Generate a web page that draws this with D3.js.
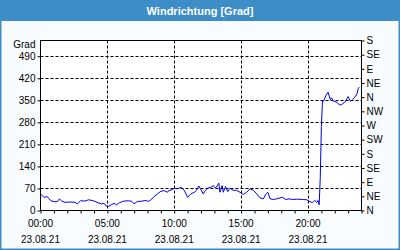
<!DOCTYPE html>
<html>
<head>
<meta charset="utf-8">
<script src="https://cdn.jsdelivr.net/npm/d3@7"></script>
<style>
  body { margin: 0; background: #fff; }
  text { font-family: "Liberation Sans", Arial, sans-serif; }
</style>
</head>
<body>
<div id="wrapper"></div>
<script>
// data (time of day, direction in degrees)
const times = ["00:00","00:15","00:30","00:45","01:00","01:15","01:25","01:35","01:50","02:15",
  "02:35","02:45","03:00","03:20","03:35","03:50","04:05","04:20","04:35","04:45",
  "04:55","05:05","05:20","05:30","05:40","05:55","06:15","06:35","06:50","07:00",
  "07:15","07:30","07:50","08:05","08:15","08:30","08:45","09:00","09:15","09:30",
  "09:35","09:50","10:00","10:15","10:30","10:45","11:00","11:15","11:30","11:40",
  "11:50","12:00","12:10","12:20","12:30","12:45","12:55","13:05","13:15","13:20",
  "13:25","13:35","13:40","13:50","14:00","14:10","14:25","14:40","14:55","15:10",
  "15:25","15:40","15:55","16:10","16:25","16:40","16:50","17:00","17:10","17:25",
  "17:40","17:55","18:05","18:20","18:35","18:50","19:10","19:35","19:55","20:05",
  "20:20","20:30","20:40","20:45","20:50","20:55","21:00","21:05","21:10","21:20",
  "21:30","21:40","21:45","21:55","22:10","22:20","22:30","22:45","22:55","23:00",
  "23:10","23:20","23:30","23:40","23:45","23:50"];
const direction = [53,42,44,32,28,28,37,30,26,27,
  26,21,31,30,34,32,29,24,21,23,
  14,13,19,23,18,25,30,31,29,21,
  29,29,32,29,34,44,53,61,63,58,
  63,66,71,69,74,64,42,53,58,64,
  78,66,53,64,71,74,79,71,81,87,
  58,79,58,76,60,71,64,64,58,51,
  58,69,64,53,40,37,51,58,37,35,
  37,40,42,35,37,35,36,35,34,29,
  25,32,26,32,18,104,267,349,347,365,
  376,352,358,347,344,336,336,344,355,362,
  347,352,360,371,387,392];

const leftTicks = [0, 70, 140, 210, 280, 350, 420, 490];
const compassTicks = [0, 45, 90, 135, 180, 225, 270, 315, 360, 405, 450, 495, 540];
const compassLabels = ["N","NE","E","SE","S","SW","W","NW","N","NE","E","SE","S"];
const timeLabels = ["00:00", "05:00", "10:00", "15:00", "20:00"];
const dateLabel = "23.08.21";

const dataset = times.map((t, i) => ({ t, v: direction[i] }));
const toMinutes = (s) => {
  const [h, m] = s.split(":").map(Number);
  return h * 60 + m;
};
const xAccessor = (d) => toMinutes(d.t);
const yAccessor = (d) => d.v;

let dimensions = {
  width: 400,
  height: 250,
  margin: { top: 40, right: 39, bottom: 40, left: 40 },
};
dimensions.boundedWidth = dimensions.width - dimensions.margin.left - dimensions.margin.right;
dimensions.boundedHeight = dimensions.height - dimensions.margin.top - dimensions.margin.bottom;

const wrapper = d3.select("#wrapper").append("svg")
  .attr("width", dimensions.width)
  .attr("height", dimensions.height);

// panel background + frame + title bar
wrapper.append("rect")
  .attr("x", 0.75).attr("y", 0.75)
  .attr("width", dimensions.width - 1.5).attr("height", dimensions.height - 1.5)
  .attr("fill", "#f9fcfe")
  .attr("stroke", "#3c8dc8").attr("stroke-width", 1.5);
wrapper.append("rect")
  .attr("x", 0).attr("y", 0)
  .attr("width", dimensions.width).attr("height", 21)
  .attr("fill", "#3c8dc8");
wrapper.append("text")
  .attr("x", dimensions.width / 2).attr("y", 14.5)
  .attr("text-anchor", "middle")
  .attr("fill", "#fff")
  .style("font-size", "11px").style("font-weight", "bold")
  .text("Windrichtung [Grad]");

const bounds = wrapper.append("g")
  .attr("transform", `translate(${dimensions.margin.left + 0.5},${dimensions.margin.top + 0.5})`);

bounds.append("rect")
  .attr("width", dimensions.boundedWidth).attr("height", dimensions.boundedHeight)
  .attr("fill", "#fff");

const yScale = d3.scaleLinear().domain([0, 540]).range([dimensions.boundedHeight, 0]);
const xScale = d3.scaleLinear().domain([0, 1440]).range([0, dimensions.boundedWidth]);

// grid
const grid = bounds.append("g")
  .attr("stroke", "#000").attr("stroke-width", 1).attr("stroke-dasharray", "3,2");
grid.selectAll(".h").data(leftTicks.slice(1)).join("line")
  .attr("x1", 0).attr("x2", dimensions.boundedWidth)
  .attr("y1", (d) => Math.round(yScale(d))).attr("y2", (d) => Math.round(yScale(d)));
grid.selectAll(".v").data(timeLabels.slice(1)).join("line")
  .attr("x1", (d) => Math.round(xScale(toMinutes(d)))).attr("x2", (d) => Math.round(xScale(toMinutes(d))))
  .attr("y1", 0).attr("y2", dimensions.boundedHeight);

// line
const lineGenerator = d3.line()
  .x((d) => xScale(xAccessor(d)))
  .y((d) => yScale(yAccessor(d)));
bounds.append("path")
  .attr("d", lineGenerator(dataset))
  .attr("fill", "none")
  .attr("stroke", "#0000ee")
  .attr("stroke-width", 1);

// frame of the plot
bounds.append("rect")
  .attr("width", dimensions.boundedWidth).attr("height", dimensions.boundedHeight)
  .attr("fill", "none").attr("stroke", "#000");

// left axis
const yAxis = bounds.append("g")
  .call(d3.axisLeft(yScale).tickValues(leftTicks).tickSize(3).tickSizeOuter(0).tickPadding(2));
yAxis.select(".domain").remove();
yAxis.append("text")
  .attr("x", -5).attr("y", yScale(540) + 7)
  .attr("text-anchor", "end").attr("fill", "#000")
  .text("Grad");

// right axis
const yAxisRight = bounds.append("g")
  .attr("transform", `translate(${dimensions.boundedWidth},0)`)
  .call(d3.axisRight(yScale).tickValues(compassTicks).tickSize(3).tickSizeOuter(0).tickPadding(2)
    .tickFormat((d, i) => compassLabels[i]));
yAxisRight.select(".domain").remove();

// bottom axis, hourly ticks
const hours = d3.range(0, 1441, 60);
const xAxis = bounds.append("g")
  .attr("transform", `translate(0,${dimensions.boundedHeight})`)
  .call(d3.axisBottom(xScale).tickValues(hours).tickSize(3).tickSizeOuter(0).tickFormat(""));
xAxis.select(".domain").remove();

const xLabels = bounds.append("g")
  .attr("transform", `translate(0,${dimensions.boundedHeight})`)
  .attr("text-anchor", "middle");
xLabels.selectAll(".time").data(timeLabels).join("text")
  .attr("x", (d) => xScale(toMinutes(d))).attr("y", 16)
  .text((d) => d);
xLabels.selectAll(".date").data(timeLabels).join("text")
  .attr("x", (d) => xScale(toMinutes(d))).attr("y", 32)
  .text(dateLabel);

wrapper.selectAll("text").style("font-size", function () {
  return this.style.fontSize || "10px";
});
wrapper.selectAll(".tick text").attr("fill", "#000");
xLabels.selectAll("text").attr("fill", "#000");
</script>
</body>
</html>
